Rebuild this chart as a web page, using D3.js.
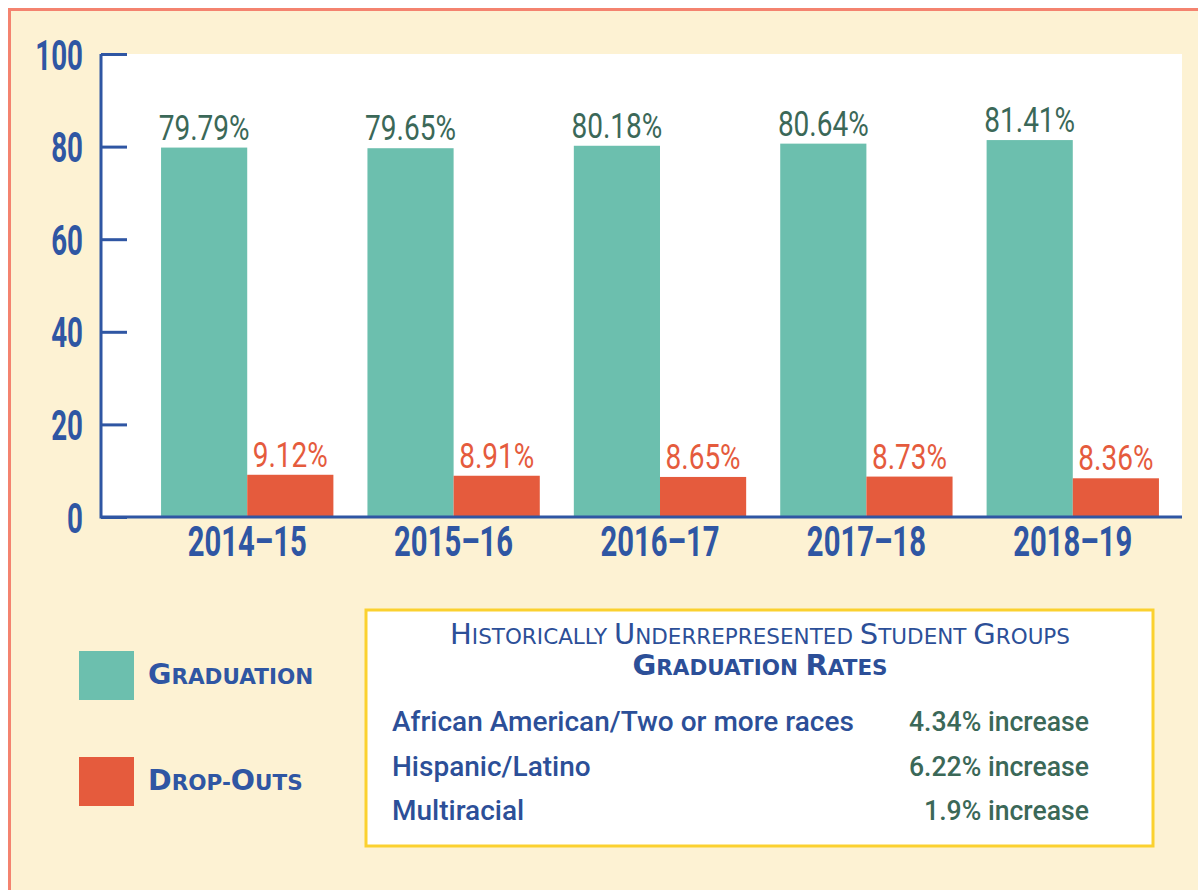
<!DOCTYPE html>
<html>
<head>
<meta charset="utf-8">
<script src="https://cdn.jsdelivr.net/npm/d3@7"></script>
<style>
  body { margin: 0; background: #fff; }
  svg { display: block; }
</style>
</head>
<body>
<svg id="chart"></svg>
<script>
const width = 1198;
const height = 890;

// data
const years = ['2014-15', '2015-16', '2016-17', '2017-18', '2018-19'];
const graduation = [79.79, 79.65, 80.18, 80.64, 81.41];
const dropouts = [9.12, 8.91, 8.65, 8.73, 8.36];
const yTicks = [0, 20, 40, 60, 80, 100];
const groups = ['African American/Two or more races', 'Hispanic/Latino', 'Multiracial'];
const increases = ['4.34% increase', '6.22% increase', '1.9% increase'];

const blue = '#2f56a3';
const teal = '#6cbfae';
const orange = '#e55b3d';
const dkgreen = '#3b6858';
const din = 'Roboto, "Noto Sans", sans-serif';
const verdana = '"DejaVu Sans", Verdana, sans-serif';

const svg = d3.select('#chart')
  .attr('width', width)
  .attr('height', height);

// cream panel with salmon frame
svg.append('rect')
  .attr('x', 9.5).attr('y', 9.5)
  .attr('width', width).attr('height', height)
  .attr('fill', '#fdf2d3')
  .attr('stroke', '#f4836f')
  .attr('stroke-width', 3);

const plot = {left: 127, right: 1182, top: 54, bottom: 517};

svg.append('rect')
  .attr('x', 102).attr('y', plot.top)
  .attr('width', plot.right - 102).attr('height', plot.bottom - plot.top)
  .attr('fill', '#fff');

const y = d3.scaleLinear().domain([0, 100]).range([plot.bottom, plot.top]);
const x = d3.scaleBand().domain(years).range([127, 1193])
  .paddingInner(0.165).paddingOuter(0.165);
const x1 = d3.scaleBand().domain(['grad', 'drop']).range([0, x.bandwidth()]);

// the original uses a condensed face, so squeeze glyphs horizontally
const labSqueeze = 0.8;

const g = svg.selectAll('g.year')
  .data(years)
  .join('g')
  .attr('class', 'year')
  .attr('transform', d => `translate(${x(d)},0)`);

g.append('rect')
  .attr('x', x1('grad'))
  .attr('y', (d, i) => y(graduation[i]))
  .attr('width', x1.bandwidth())
  .attr('height', (d, i) => y(0) - y(graduation[i]))
  .attr('fill', teal);

g.append('rect')
  .attr('x', x1('drop'))
  .attr('y', (d, i) => y(dropouts[i]))
  .attr('width', x1.bandwidth())
  .attr('height', (d, i) => y(0) - y(dropouts[i]))
  .attr('fill', orange);

g.append('text')
  .attr('transform', (d, i) =>
    `translate(${x1('grad') + x1.bandwidth() / 2},${y(graduation[i]) - 8}) scale(${labSqueeze},1)`)
  .attr('text-anchor', 'middle')
  .attr('font-family', din)
  .attr('font-size', 35)
  .attr('fill', dkgreen)
  .text((d, i) => graduation[i].toFixed(2) + '%');

g.append('text')
  .attr('transform', (d, i) =>
    `translate(${x1('drop') + x1.bandwidth() / 2},${y(dropouts[i]) - 8}) scale(${labSqueeze},1)`)
  .attr('text-anchor', 'middle')
  .attr('font-family', din)
  .attr('font-size', 35)
  .attr('fill', orange)
  .text((d, i) => dropouts[i].toFixed(2) + '%');

// y axis
const tickSqueeze = 0.66;
const yAxis = svg.append('g')
  .attr('transform', `translate(${plot.left},0)`)
  .call(d3.axisLeft(y).tickValues(yTicks).tickSize(26).tickSizeOuter(0).tickPadding(18));
yAxis.select('.domain').remove();
yAxis.selectAll('.tick line').attr('stroke', blue).attr('stroke-width', 3);
yAxis.selectAll('.tick text')
  .attr('fill', blue)
  .attr('font-family', din)
  .attr('font-weight', 'bold')
  .attr('font-size', 42)
  .attr('x', -44 / tickSqueeze)
  .attr('transform', `scale(${tickSqueeze},1)`)
  .attr('dy', '0.36em');

svg.append('line')
  .attr('x1', 101).attr('x2', 101)
  .attr('y1', plot.top).attr('y2', plot.bottom + 1.5)
  .attr('stroke', blue).attr('stroke-width', 3);

// x axis
svg.append('line')
  .attr('x1', 101).attr('x2', plot.right)
  .attr('y1', plot.bottom).attr('y2', plot.bottom)
  .attr('stroke', blue).attr('stroke-width', 3);

svg.selectAll('text.xlab')
  .data(years)
  .join('text')
  .attr('class', 'xlab')
  .attr('transform', d => `translate(${x(d) + x.bandwidth() / 2},556) scale(0.68,1)`)
  .attr('text-anchor', 'middle')
  .attr('font-family', din)
  .attr('font-weight', 'bold')
  .attr('font-size', 43)
  .attr('fill', blue)
  .text(d => d.replace('-', '\u2013'));

// small caps helper: bigger first letter of each word
function smallCaps(sel, str, big, small) {
  str.split(' ').forEach((w, i) => {
    if (i > 0) sel.append('tspan').attr('font-size', small).text(' ');
    w.split('-').forEach((p, j) => {
      if (j > 0) sel.append('tspan').attr('font-size', small).text('-');
      sel.append('tspan').attr('font-size', big).text(p[0].toUpperCase());
      sel.append('tspan').attr('font-size', small).text(p.slice(1).toUpperCase());
    });
  });
}

// legend
const legend = [
  {name: 'Graduation', color: teal, y: 651},
  {name: 'Drop-Outs', color: orange, y: 757}
];
legend.forEach(l => {
  svg.append('rect')
    .attr('x', 79).attr('y', l.y)
    .attr('width', 55).attr('height', 49)
    .attr('fill', l.color);
  const t = svg.append('text')
    .attr('x', 148).attr('y', l.y + 33)
    .attr('font-family', verdana)
    .attr('font-weight', 'bold')
    .attr('fill', blue);
  smallCaps(t, l.name, 28.5, 21.5);
});

// table box
svg.append('rect')
  .attr('x', 366).attr('y', 610)
  .attr('width', 787).attr('height', 236)
  .attr('fill', '#fff')
  .attr('stroke', '#fbd12f')
  .attr('stroke-width', 3);

const t1 = svg.append('text')
  .attr('x', 760).attr('y', 644)
  .attr('text-anchor', 'middle')
  .attr('font-family', verdana)
  .attr('fill', '#2c4f98');
smallCaps(t1, 'Historically Underrepresented Student Groups', 29, 21.5);

const t2 = svg.append('text')
  .attr('x', 760).attr('y', 675)
  .attr('text-anchor', 'middle')
  .attr('font-family', verdana)
  .attr('font-weight', 'bold')
  .attr('fill', '#2c4f98');
smallCaps(t2, 'Graduation Rates', 29, 21.5);

const rowY = d3.scalePoint().domain(groups).range([731, 820]);

svg.selectAll('text.grp')
  .data(groups)
  .join('text')
  .attr('class', 'grp')
  .attr('transform', d => `translate(392,${rowY(d)})`)
  .attr('font-family', din)
  .attr('font-weight', 500)
  .attr('font-size', 28)
  .attr('fill', '#2c4f98')
  .text(d => d);

svg.selectAll('text.inc')
  .data(increases)
  .join('text')
  .attr('class', 'inc')
  .attr('transform', (d, i) => `translate(1089,${rowY(groups[i])}) scale(0.95,1)`)
  .attr('text-anchor', 'end')
  .attr('font-family', din)
  .attr('font-weight', 500)
  .attr('font-size', 28)
  .attr('fill', dkgreen)
  .text(d => d);
</script>
</body>
</html>
